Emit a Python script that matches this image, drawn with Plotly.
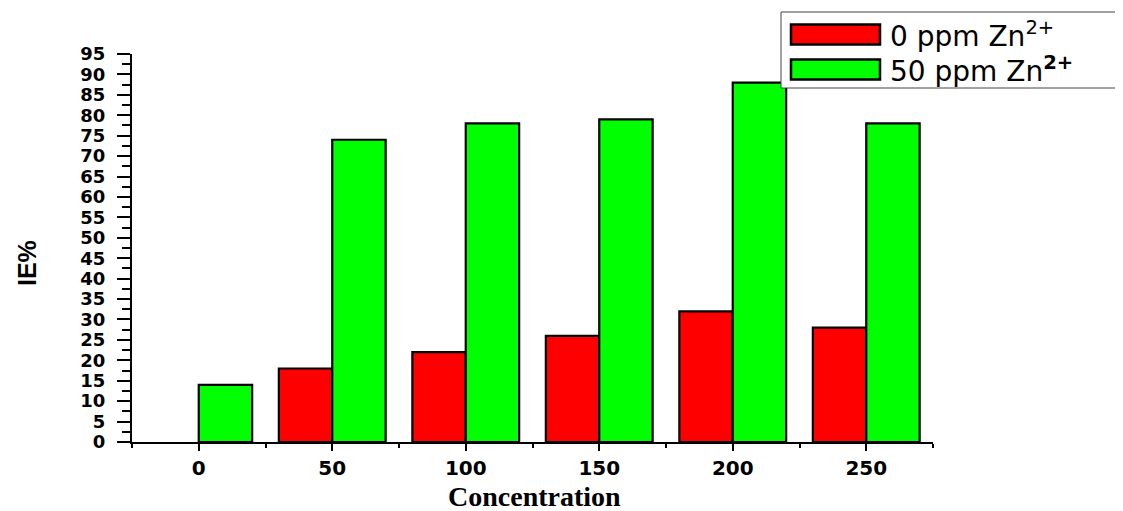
import plotly.graph_objects as go

concentration = [0, 50, 100, 150, 200, 250]
ie_0ppm = [None, 18, 22, 26, 32, 28]
ie_50ppm = [14, 74, 78, 79, 88, 78]
series_names = ["0 ppm Zn<sup>2+</sup>", "50 ppm Zn<sup><b>2+</b></sup>"]
y_ticks = list(range(0, 100, 5))

RED = "#ff0000"
GREEN = "#00ff00"

fig = go.Figure()
fig.add_trace(go.Bar(x=concentration, y=ie_0ppm, name=series_names[0],
                     marker=dict(color=RED, line=dict(color="black", width=2.2))))
fig.add_trace(go.Bar(x=concentration, y=ie_50ppm, name=series_names[1],
                     marker=dict(color=GREEN, line=dict(color="black", width=2.2))))

# page has an 8px body margin: shift the figure so the plot lands where the reference has it
OFF = 8
W, H = 1123, 511
L, R, T, B = 132 - OFF, 190 + OFF, 54 - OFF, 69 + OFF
pw, ph = W - L - R, H - T - B

def px(xp):
    return (xp - OFF - L) / pw

def py(yp):
    return (H - B - (yp - OFF)) / ph

ytickfont = dict(family="DejaVu Sans", size=18, color="black", weight="bold")
xtickfont = dict(family="DejaVu Sans", size=20, color="black", weight="bold")

fig.update_layout(
    width=W, height=H,
    margin=dict(l=L, r=R, t=T, b=B, autoexpand=False),
    paper_bgcolor="white", plot_bgcolor="white",
    barmode="group", bargap=0.2, bargroupgap=0,
    showlegend=False,
    xaxis=dict(range=[-25, 275], tickvals=concentration,
               ticktext=[str(c) for c in concentration],
               showgrid=False, zeroline=False, showline=True,
               linecolor="black", linewidth=2,
               ticks="outside", ticklen=7, tickwidth=2, tickcolor="black",
               minor=dict(tickvals=[c - 25 for c in concentration] + [275],
                          ticks="outside", ticklen=4, tickwidth=2, tickcolor="black"),
               tickfont=xtickfont, ticklabelstandoff=0),
    yaxis=dict(range=[0, 95], tickvals=y_ticks, ticktext=[str(v) for v in y_ticks],
               showgrid=False, zeroline=False, showline=True,
               linecolor="black", linewidth=2,
               ticks="outside", ticklen=13, tickwidth=2, tickcolor="black",
               minor=dict(dtick=2.5, tick0=0, ticks="outside", ticklen=8,
                          tickwidth=2, tickcolor="black"),
               tickfont=ytickfont, ticklabelstandoff=8),
)

# Axis titles
fig.add_annotation(text="Concentration", xref="paper", yref="paper",
                   x=px(534), y=py(496), showarrow=False,
                   font=dict(family="Liberation Serif", size=28, color="black", weight="bold"),
                   xanchor="center", yanchor="middle")
fig.add_annotation(text="IE%", xref="paper", yref="paper",
                   x=px(27), y=py(263), showarrow=False, textangle=-90,
                   font=dict(family="Liberation Sans", size=25, color="black", weight="bold"),
                   xanchor="center", yanchor="middle")

# Legend box
fig.add_shape(type="rect", xref="paper", yref="paper", layer="above",
              x0=px(781), x1=px(1122), y0=py(88), y1=py(12),
              fillcolor="white", line=dict(color="#444444", width=1))
for i, (col, yc) in enumerate([(RED, 34.5), (GREEN, 69.5)]):
    fig.add_shape(type="rect", xref="paper", yref="paper", layer="above",
                  x0=px(791), x1=px(880), y0=py(yc + 10), y1=py(yc - 10),
                  fillcolor=col, line=dict(color="black", width=2.5))
    fig.add_annotation(text=series_names[i], xref="paper", yref="paper",
                       x=px(888), y=py(yc), showarrow=False,
                       xanchor="left", yanchor="middle",
                       font=dict(family="DejaVu Sans", size=28, color="black"))

fig.write_html("out.html")
